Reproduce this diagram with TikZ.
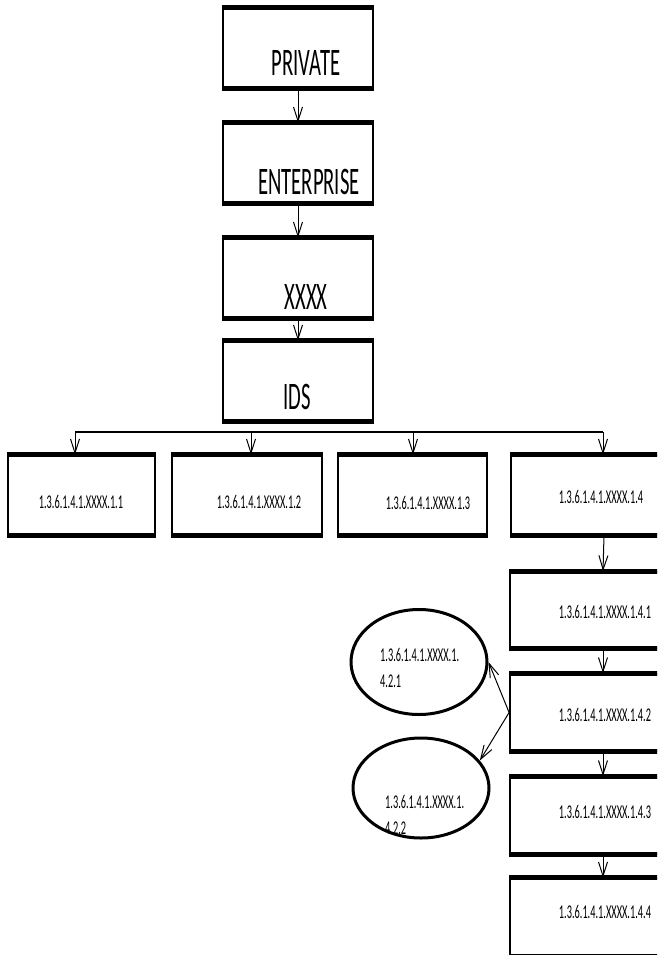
\documentclass[tikz,border=0pt]{standalone}
\usepackage{fontspec}
\setmainfont{Carlito}[FakeStretch=0.53]
\usetikzlibrary{arrows.meta, shapes.geometric, positioning}

\tikzset{
  oidbox/.style={draw, line width=1.8pt, minimum width=150pt, minimum height=79pt,
    append after command={
      (\tikzlastnode.north west) edge[draw, line width=5pt] (\tikzlastnode.north east)
      (\tikzlastnode.south west) edge[draw, line width=5pt] (\tikzlastnode.south east)}},
  oidleaf/.style={draw, ellipse, line width=3pt, minimum width=136pt},
  bigtext/.style={font=\fontsize{39}{40}\selectfont, inner sep=0pt},
  smalltext/.style={font=\fontsize{19.5}{26}\selectfont, inner sep=0pt, align=left},
  oidarrow/.style={-{Straight Barb[length=14pt,width=9pt]}, line width=1pt},
}

\begin{document}
\begin{tikzpicture}[x=1pt, y=-1pt]
  \clip (0,0) rectangle (657,955);

  % top chain
  \node[oidbox] (private)    at (298,48)  {};
  \node[oidbox] (enterprise) at (298,163) {};
  \node[oidbox] (xxxx)       at (298,278) {};
  \node[oidbox] (ids)        at (298,381) {};
  \node[bigtext] (privatetxt)    at (306,63)  {PRIVATE};
  \node[bigtext] (enterprisetxt) at (309,182) {ENTERPRISE};
  \node[bigtext] (xxxxtxt)       at (306,297) {XXXX};
  \node[bigtext] (idstxt)        at (297,397) {IDS};

  \draw[oidarrow] (private) -- (enterprise);
  \draw[oidarrow] (enterprise) -- (xxxx);
  \draw[oidarrow] (xxxx) -- (ids);

  % second level
  \node[oidbox, minimum width=147pt] (oid11) at (81.5,495) {};
  \node[oidbox] (oid12) at (247,495) {};
  \node[oidbox, minimum width=149pt] (oid13) at (412.5,495) {};
  \node[oidbox] (oid14) at (586,495) {};
  \node[smalltext] (oid11txt) at (81,502)  {1.3.6.1.4.1.XXXX.1.1};
  \node[smalltext] (oid12txt) at (259,502) {1.3.6.1.4.1.XXXX.1.2};
  \node[smalltext] (oid13txt) at (428,503) {1.3.6.1.4.1.XXXX.1.3};
  \node[smalltext] (oid14txt) at (601,497) {1.3.6.1.4.1.XXXX.1.4};

  \coordinate (bus1) at (75,432);
  \coordinate (bus2) at (251,432);
  \coordinate (bus3) at (413,432);
  \coordinate (bus4) at (603,432);
  \draw[line width=1.2pt] (bus1) -- (bus4);
  \foreach \i in {1,...,4}
    \draw[oidarrow] (bus\i) -- (bus\i |- oid1\i.north);

  % branch of 1.4
  \node[oidbox, minimum height=76pt] (oid141) at (585,610)   {};
  \node[oidbox, minimum height=77pt] (oid142) at (585,712.5) {};
  \node[oidbox, minimum height=77pt] (oid143) at (585,815.5) {};
  \node[oidbox, minimum height=77pt] (oid144) at (585,917)   {};
  \node[smalltext] (oid141txt) at (605,612) {1.3.6.1.4.1.XXXX.1.4.1};
  \node[smalltext] (oid142txt) at (605,715) {1.3.6.1.4.1.XXXX.1.4.2};
  \node[smalltext] (oid143txt) at (605,812) {1.3.6.1.4.1.XXXX.1.4.3};
  \node[smalltext] (oid144txt) at (605,912) {1.3.6.1.4.1.XXXX.1.4.4};

  \draw[oidarrow] ([xshift=18pt]oid14.south)  -- ([xshift=18pt]oid141.north);
  \draw[oidarrow] ([xshift=18pt]oid141.south) -- ([xshift=18pt]oid142.north);
  \draw[oidarrow] ([xshift=18pt]oid142.south) -- ([xshift=18pt]oid143.north);
  \draw[oidarrow] ([xshift=18pt]oid143.south) -- ([xshift=18pt]oid144.north);

  % leaves of 1.4.2
  \node[oidleaf, minimum height=105pt] (leaf1) at (419,662) {};
  \node[oidleaf, minimum height=100pt] (leaf2) at (421,788) {};
  \node[smalltext, anchor=west] (leaf1txt) at (380,668) {1.3.6.1.4.1.XXXX.1.\\4.2.1};
  \node[smalltext, anchor=west] (leaf2txt) at (385,815) {1.3.6.1.4.1.XXXX.1.\\4.2.2};

  \draw[oidarrow] (oid142.west) -- (leaf1.east);
  \draw[oidarrow] (oid142.west) -- (leaf2.25);
\end{tikzpicture}
\end{document}
